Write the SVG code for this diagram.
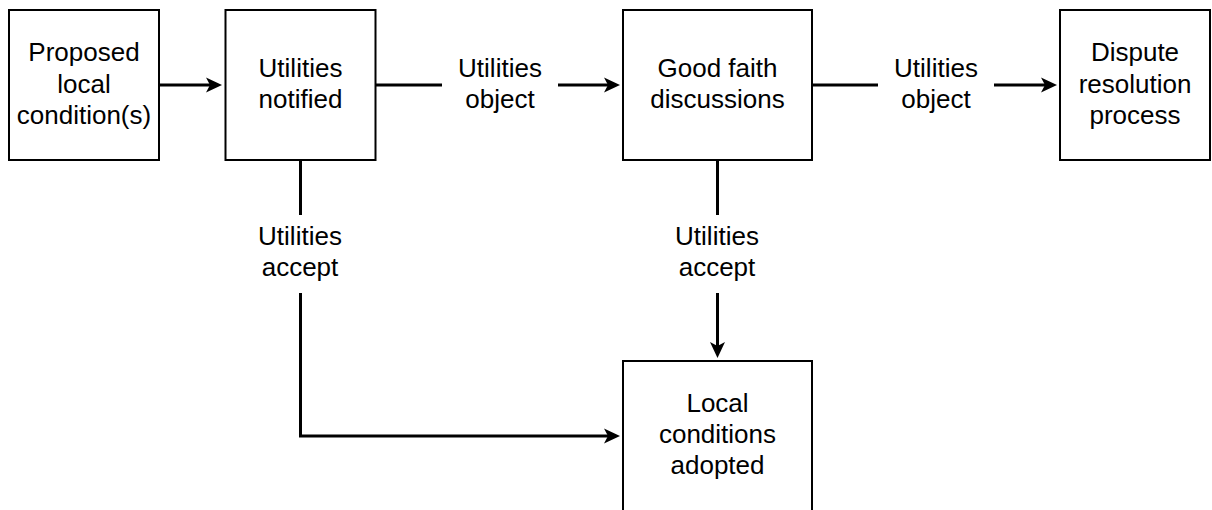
<svg xmlns="http://www.w3.org/2000/svg" width="1212" height="510" viewBox="0 0 1212 510">
  <style>
    .box { fill: #ffffff; stroke: #000000; stroke-width: 2; }
    .edge { fill: none; stroke: #000000; stroke-width: 3; }
    text { font-family: "Liberation Sans", Arial, Helvetica, sans-serif; font-size: 26px; fill: #000000; text-anchor: middle; }
  </style>
  <defs>
    <!-- classic arrowhead; the tip sits 10px beyond the path end so the stroke stays hidden inside the head -->
    <marker id="arrow" markerUnits="userSpaceOnUse" markerWidth="18" markerHeight="16" viewBox="-7 -8 18 16" refX="0" refY="0" orient="auto">
      <path d="M10,0 L-6,-7.5 L-2,0 L-6,7.5 Z" fill="#000000"/>
    </marker>
  </defs>

  <rect width="1212" height="510" fill="#ffffff"/>

  <!-- connectors -->
  <g id="connectors">
    <path class="edge" d="M160,85 H212" marker-end="url(#arrow)"/>
    <path class="edge" d="M376,85 H442"/>
    <path class="edge" d="M558,85 H610" marker-end="url(#arrow)"/>
    <path class="edge" d="M812,85 H878"/>
    <path class="edge" d="M994,85 H1047" marker-end="url(#arrow)"/>
    <path class="edge" d="M300.5,161 V215"/>
    <path class="edge" d="M300.5,293 V436 H610" marker-end="url(#arrow)"/>
    <path class="edge" d="M717.5,161 V215"/>
    <path class="edge" d="M717.5,293 V348" marker-end="url(#arrow)"/>
  </g>

  <!-- connector labels -->
  <g id="labels">
    <text x="500" y="77">Utilities</text>
    <text x="500" y="108">object</text>
    <text x="936" y="77">Utilities</text>
    <text x="936" y="108">object</text>
    <text x="300" y="245">Utilities</text>
    <text x="300" y="276">accept</text>
    <text x="717" y="245">Utilities</text>
    <text x="717" y="276">accept</text>
  </g>

  <g id="proposed">
    <rect class="box" x="9" y="10" width="150" height="150"/>
    <text x="84" y="61">Proposed</text>
    <text x="84" y="93">local</text>
    <text x="84" y="124">condition(s)</text>
  </g>

  <g id="notified">
    <rect class="box" x="225.5" y="10" width="150" height="150"/>
    <text x="300.5" y="77">Utilities</text>
    <text x="300.5" y="108">notified</text>
  </g>

  <g id="discussions">
    <rect class="box" x="623" y="10" width="189" height="150"/>
    <text x="717.5" y="77">Good faith</text>
    <text x="717.5" y="108">discussions</text>
  </g>

  <g id="dispute">
    <rect class="box" x="1060" y="10" width="150" height="150"/>
    <text x="1135" y="61">Dispute</text>
    <text x="1135" y="93">resolution</text>
    <text x="1135" y="124">process</text>
  </g>

  <g id="adopted">
    <rect class="box" x="623" y="361" width="189" height="152"/>
    <text x="717.5" y="412">Local</text>
    <text x="717.5" y="443">conditions</text>
    <text x="717.5" y="474">adopted</text>
  </g>
</svg>
